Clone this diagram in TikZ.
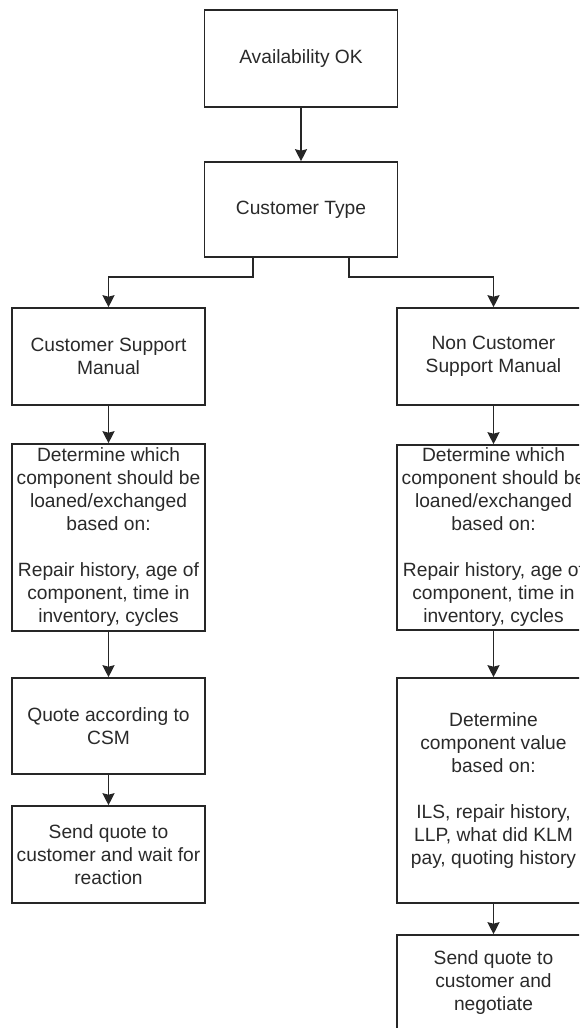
\documentclass[tikz,border=0pt]{standalone}
\usepackage{fontspec}
\setmainfont{Liberation Sans}
\usetikzlibrary{arrows.meta}
\definecolor{ink}{HTML}{2A2A2A}
\definecolor{edge}{HTML}{262626}
\begin{document}
\begin{tikzpicture}[x=1pt,y=-1pt,
  box/.style={draw=edge, line width=1.6pt, fill=white, rectangle, inner sep=0pt,
    minimum width=193pt, align=center, text=ink,
    font=\fontsize{19.2}{23}\selectfont},
  arr/.style={draw=edge, line width=1.6pt,
    -{Stealth[length=12pt,width=12pt,inset=1.5pt]}}]
  \clip (0,0) rectangle (579,1028);
  \fill[white] (0,0) rectangle (579,1028);

  % top of the flow
  \node[box, minimum height=97pt] (avail) at (301,58.5) {Availability OK};
  \node[box, minimum height=95pt] (ctype) at (301,209.5) {Customer Type};

  % customer support manual branch
  \node[box, minimum height=97pt] (csm) at (108.5,356.5) {Customer Support\\Manual};
  \node[box, minimum height=187pt] (csmdet) at (108.5,537.5)
    {Determine which\\component should be\\loaned/exchanged\\based on:\\[23pt]Repair history, age of\\component, time in\\inventory, cycles};
  \node[box, minimum height=96pt] (csmquote) at (108.5,726) {Quote according to\\CSM};
  \node[box, minimum height=97pt] (csmsend) at (108.5,854.5)
    {Send quote to\\customer and wait for\\reaction};

  % non customer support manual branch
  \node[box, minimum height=97pt] (ncsm) at (493.5,356.5) {Non Customer\\Support Manual};
  \node[box, minimum height=185pt] (ncsmdet) at (493.5,537.5)
    {Determine which\\component should be\\loaned/exchanged\\based on:\\[23pt]Repair history, age of\\component, time in\\inventory, cycles};
  \node[box, minimum height=225pt] (ncsmval) at (493.5,790.5)
    {Determine\\component value\\based on:\\[23pt]ILS, repair history,\\LLP, what did KLM\\pay, quoting history};
  \node[box, minimum height=96pt] (ncsmsend) at (493.5,983)
    {Send quote to\\customer and\\negotiate};

  % split points below the customer type box
  \coordinate (splitl) at (253,277);
  \coordinate (splitr) at (349,277);

  % connectors
  \draw[arr] (avail.south) -- (ctype.north);
  \draw[arr] (ctype.south -| splitl) -- (splitl) -| (csm.north);
  \draw[arr] (ctype.south -| splitr) -- (splitr) -| (ncsm.north);
  \draw[arr] (csm.south) -- (csmdet.north);
  \draw[arr] (csmdet.south) -- (csmquote.north);
  \draw[arr] (csmquote.south) -- (csmsend.north);
  \draw[arr] (ncsm.south) -- (ncsmdet.north);
  \draw[arr] (ncsmdet.south) -- (ncsmval.north);
  \draw[arr] (ncsmval.south) -- (ncsmsend.north);
\end{tikzpicture}
\end{document}
